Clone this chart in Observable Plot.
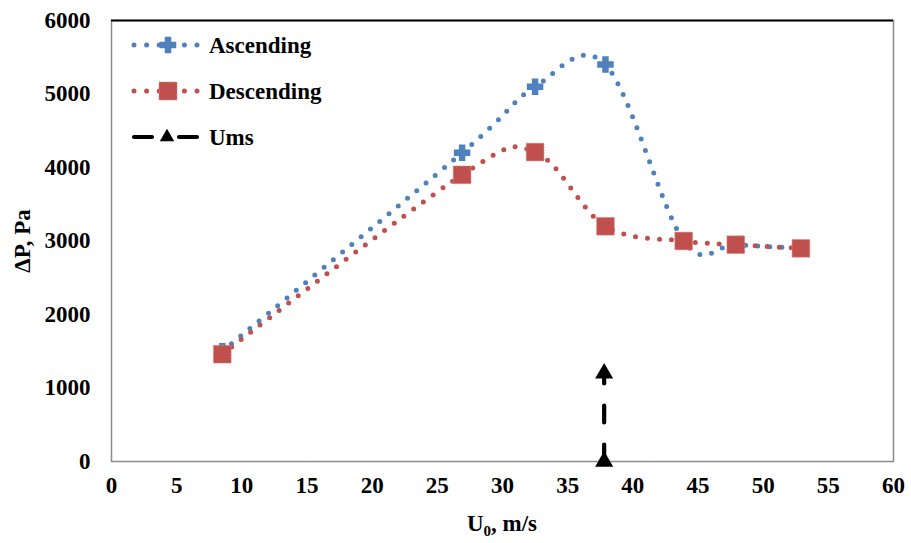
<!DOCTYPE html>
<html>
<head>
<meta charset="utf-8">
<script src="https://cdn.jsdelivr.net/npm/d3@7"></script>
<script src="https://cdn.jsdelivr.net/npm/@observablehq/plot@0.6"></script>
<style>
  html, body { margin: 0; padding: 0; background: #fff; }
  #wrap { position: relative; width: 911px; height: 543px; }
</style>
</head>
<body>
<div id="wrap"></div>
<script>
// ---- data ----
const ascendingU = [8.5, 26.9, 32.5, 37.9, 43.9, 47.9, 52.9];
const ascendingP = [1500, 4200, 5100, 5400, 3000, 2950, 2900];
const descendingU = [8.5, 26.9, 32.5, 37.9, 43.9, 47.9, 52.9];
const descendingP = [1460, 3900, 4210, 3200, 3000, 2950, 2900];
const umsU = [37.8, 37.8];
const umsP = [0, 1200];
const xTicks = [0, 5, 10, 15, 20, 25, 30, 35, 40, 45, 50, 55, 60];
const yTicks = [0, 1000, 2000, 3000, 4000, 5000, 6000];
const seriesNames = ["Ascending", "Descending", "Ums"];

const BLUE = "#4F81BD";
const RED = "#C0504D";
const FONT = "'Liberation Serif', 'Times New Roman', Times, serif";

const asc = ascendingU.map((u, i) => ({u, p: ascendingP[i]}));
const desc = descendingU.map((u, i) => ({u, p: descendingP[i]}));
const ums = umsU.map((u, i) => ({u, p: umsP[i]}));

const chart = Plot.plot({
  width: 911,
  height: 543,
  marginLeft: 111,
  marginRight: 18,
  marginTop: 20,
  marginBottom: 82,
  x: {domain: [0, 60]},
  y: {domain: [0, 6000]},
  style: {fontFamily: FONT, fontWeight: "bold", fontSize: "23px", color: "#000", background: "#fff"},
  marks: [
    Plot.frame({stroke: "#8c8c8c", strokeWidth: 1.5}),
    Plot.ruleY([yTicks[yTicks.length - 1]], {stroke: "#000", strokeWidth: 2}),
    Plot.axisX(xTicks, {tickSize: 0, tickPadding: 15, label: null, fontSize: 23, fontWeight: "bold", tickFormat: d => String(d)}),
    Plot.axisY(yTicks, {tickSize: 0, tickPadding: 21, label: null, fontSize: 23, fontWeight: "bold", tickFormat: d => String(d)}),
    // Ascending
    Plot.line(asc, {x: "u", y: "p", curve: "cardinal", tension: 0, stroke: BLUE, strokeWidth: 5, strokeDasharray: "0,12", strokeLinecap: "round"}),
    Plot.dot(asc, {x: "u", y: "p", symbol: "cross", r: 6.3, fill: BLUE, stroke: BLUE, strokeWidth: 1.5}),
    // Descending
    Plot.line(desc, {x: "u", y: "p", curve: "cardinal", tension: 0, stroke: RED, strokeWidth: 5, strokeDasharray: "0,12", strokeLinecap: "round"}),
    Plot.dot(desc, {x: "u", y: "p", symbol: "square", r: 10, fill: RED, stroke: "#d98a88", strokeWidth: 1, strokeDasharray: "1.5,1.5"}),
    // Ums
    Plot.line(ums, {x: "u", y: "p", stroke: "#000", strokeWidth: 4.2, strokeDasharray: "17,22", strokeLinecap: "round"}),
    Plot.dot(ums, {x: "u", y: "p", symbol: "triangle", r: 6.7, fill: "#000"})
  ]
});

document.getElementById("wrap").appendChild(chart);

// ---- axis titles ----
const svg = d3.select(chart);
const xt = svg.append("text")
  .attr("x", 502).attr("y", 531)
  .attr("text-anchor", "middle")
  .attr("font-family", FONT).attr("font-weight", "bold").attr("font-size", 23)
  .attr("fill", "#000");
xt.append("tspan").text("U");
xt.append("tspan").attr("font-size", 15).attr("dy", 5).text("0");
xt.append("tspan").attr("dy", -5).text(", m/s");

svg.append("text")
  .attr("transform", "translate(30,241) rotate(-90)")
  .attr("text-anchor", "middle")
  .attr("font-family", FONT).attr("font-weight", "bold").attr("font-size", 23)
  .attr("fill", "#000")
  .text("ΔP, Pa");

// ---- legend ----
const lg = svg.append("g").attr("font-family", FONT).attr("font-weight", "bold").attr("font-size", 23).attr("text-anchor", "start");
const rows = [
  {name: seriesNames[0], y: 45, color: BLUE, kind: "asc"},
  {name: seriesNames[1], y: 91, color: RED, kind: "desc"},
  {name: seriesNames[2], y: 137, color: "#000", kind: "ums"}
];
rows.forEach(r => {
  if (r.kind === "ums") {
    lg.append("line").attr("x1", 134).attr("x2", 152).attr("y1", r.y).attr("y2", r.y)
      .attr("stroke", "#000").attr("stroke-width", 4.2).attr("stroke-linecap", "round");
    lg.append("line").attr("x1", 179).attr("x2", 197).attr("y1", r.y).attr("y2", r.y)
      .attr("stroke", "#000").attr("stroke-width", 4.2).attr("stroke-linecap", "round");
    lg.append("path").attr("transform", `translate(167,${r.y})`)
      .attr("d", d3.symbol(d3.symbolTriangle, 90)()).attr("fill", "#000");
  } else {
    lg.append("line").attr("x1", 134).attr("x2", 200).attr("y1", r.y).attr("y2", r.y)
      .attr("stroke", r.color).attr("stroke-width", 5).attr("stroke-dasharray", "0,12.6").attr("stroke-linecap", "round");
    if (r.kind === "asc") {
      lg.append("path").attr("transform", `translate(168,${r.y})`)
        .attr("d", d3.symbol(d3.symbolCross, 125)()).attr("fill", r.color).attr("stroke", r.color).attr("stroke-width", 1.5);
    } else {
      lg.append("rect").attr("x", 159).attr("y", r.y - 9).attr("width", 18).attr("height", 18)
        .attr("fill", r.color).attr("stroke", "#d98a88").attr("stroke-width", 1).attr("stroke-dasharray", "1.5,1.5");
    }
  }
  lg.append("text").attr("x", 209).attr("y", r.y + 8).attr("fill", "#000").attr("text-anchor", "start").text(r.name);
});
</script>
</body>
</html>
